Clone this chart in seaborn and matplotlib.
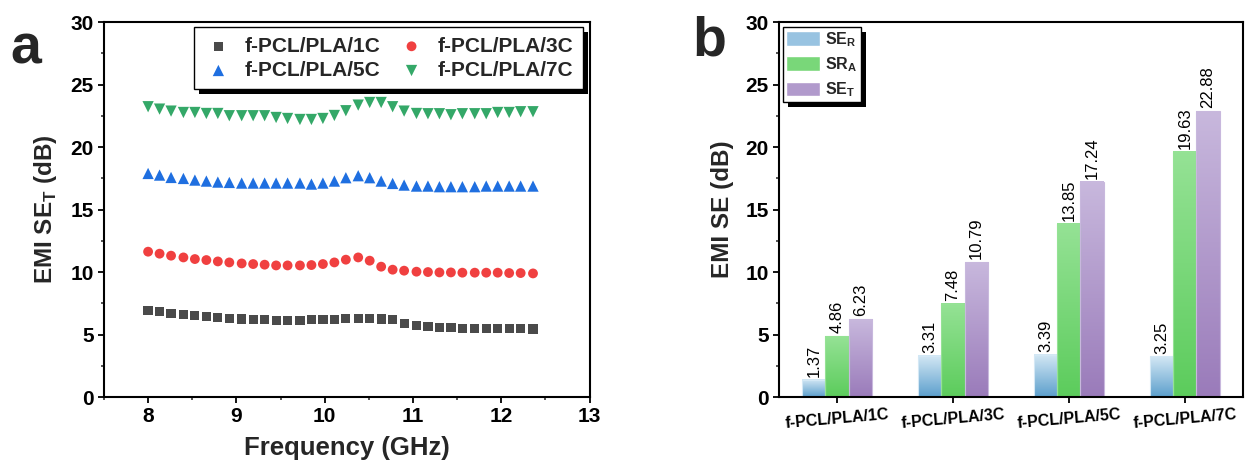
import numpy as np
import pandas as pd
import matplotlib
matplotlib.use("Agg")
import matplotlib.pyplot as plt
from matplotlib.patches import Rectangle, Patch
from matplotlib.colors import to_rgba
from matplotlib.ticker import MultipleLocator
import seaborn as sns

# ---------------- data ----------------
freq = [8.00, 8.13, 8.26, 8.40, 8.53, 8.66, 8.79, 8.92, 9.06, 9.19, 9.32, 9.45,
        9.58, 9.72, 9.85, 9.98, 10.11, 10.24, 10.38, 10.51, 10.64, 10.77, 10.90,
        11.04, 11.17, 11.30, 11.43, 11.56, 11.70, 11.83, 11.96, 12.09, 12.22, 12.36]

se_1c = [6.93, 6.83, 6.67, 6.59, 6.51, 6.43, 6.35, 6.27, 6.24, 6.19, 6.19, 6.13,
         6.13, 6.13, 6.19, 6.19, 6.21, 6.27, 6.27, 6.27, 6.24, 6.21, 5.89, 5.73,
         5.65, 5.57, 5.57, 5.49, 5.49, 5.49, 5.49, 5.49, 5.47, 5.44]
se_3c = [11.63, 11.47, 11.31, 11.17, 11.04, 10.96, 10.85, 10.77, 10.69, 10.64,
         10.59, 10.53, 10.53, 10.53, 10.56, 10.64, 10.77, 10.99, 11.17, 10.91,
         10.43, 10.19, 10.11, 10.03, 10.00, 9.97, 9.97, 9.95, 9.95, 9.95, 9.95,
         9.92, 9.92, 9.89]
se_5c = [17.89, 17.76, 17.57, 17.49, 17.36, 17.28, 17.20, 17.17, 17.12, 17.12,
         17.12, 17.12, 17.12, 17.12, 17.04, 17.12, 17.28, 17.55, 17.71, 17.55,
         17.28, 17.09, 16.96, 16.88, 16.88, 16.83, 16.83, 16.83, 16.83, 16.88,
         16.88, 16.88, 16.88, 16.88]
se_7c = [23.23, 23.04, 22.88, 22.77, 22.77, 22.69, 22.69, 22.51, 22.51, 22.51,
         22.51, 22.37, 22.29, 22.21, 22.21, 22.29, 22.53, 22.91, 23.36, 23.57,
         23.57, 23.23, 22.88, 22.69, 22.67, 22.67, 22.59, 22.67, 22.67, 22.67,
         22.77, 22.77, 22.83, 22.83]

samples = ["f-PCL/PLA/1C", "f-PCL/PLA/3C", "f-PCL/PLA/5C", "f-PCL/PLA/7C"]
se_r = [1.37, 3.31, 3.39, 3.25]
se_a = [4.86, 7.48, 13.85, 19.63]
se_t = [6.23, 10.79, 17.24, 22.88]
components = ["SE$_\\mathbf{R}$", "SR$_\\mathbf{A}$", "SE$_\\mathbf{T}$"]

# ---------------- style ----------------
sns.set_style("ticks")
plt.rcParams["font.family"] = ["Liberation Sans", "DejaVu Sans"]
plt.rcParams["font.weight"] = "bold"
plt.rcParams["axes.labelweight"] = "bold"
plt.rcParams["mathtext.fontset"] = "custom"
plt.rcParams["mathtext.rm"] = "Liberation Sans"
plt.rcParams["mathtext.bf"] = "Liberation Sans:bold"
plt.rcParams["axes.linewidth"] = 1.5
plt.rcParams["axes.edgecolor"] = "black"

fig = plt.figure(figsize=(12.45, 4.68), dpi=100)
ax1 = fig.add_axes([0.0835, 0.1517, 0.39, 0.801])
ax2 = fig.add_axes([0.6257, 0.1517, 0.3725, 0.801])


def style_axes(ax):
    for s in ax.spines.values():
        s.set_visible(True)
        s.set_linewidth(1.5)
        s.set_color("black")
    ax.tick_params(which="major", direction="out", length=4, width=1.3,
                   labelsize=15, colors="black")
    ax.tick_params(which="minor", direction="out", length=2.5, width=1.1)
    for lab in ax.get_yticklabels():
        lab.set_fontweight("bold")


def add_shadow(ax, leg, dx=5, dy=5):
    fig.canvas.draw()
    bb = leg.get_window_extent()
    inv = ax.transAxes.inverted()
    (x0, y0), (x1, y1) = inv.transform([[bb.x0 + dx, bb.y0 - dy],
                                        [bb.x1 + dx, bb.y1 - dy]])
    ax.add_patch(Rectangle((x0, y0), x1 - x0, y1 - y0, transform=ax.transAxes,
                           facecolor="black", edgecolor="none", zorder=4.9,
                           clip_on=False))


# ---------------- panel a ----------------
series = [se_1c, se_3c, se_5c, se_7c]
marks = ["s", "o", "^", "v"]
cols = ["#4a4a4a", "#f04040", "#1f6fe0", "#34a868"]
sizes = [44, 50, 66, 66]
for name, vals, m, c, sz in zip(samples, series, marks, cols, sizes):
    sns.scatterplot(x=freq, y=vals, marker=m, color=c, s=sz, edgecolor="none",
                    label=name, ax=ax1, zorder=3)

ax1.set_xlim(7.5, 13)
ax1.set_ylim(0, 30)
ax1.xaxis.set_major_locator(MultipleLocator(1))
ax1.xaxis.set_minor_locator(MultipleLocator(0.5))
ax1.yaxis.set_major_locator(MultipleLocator(5))
ax1.yaxis.set_minor_locator(MultipleLocator(2.5))
style_axes(ax1)
for lab in ax1.get_xticklabels():
    lab.set_fontweight("bold")
ax1.set_xlabel("Frequency (GHz)", fontsize=18.5, fontweight="bold", labelpad=7)
ax1.set_ylabel("EMI SE$_\\mathbf{T}$ (dB)", fontsize=17.5, fontweight="bold",
               labelpad=8)

# two rows: 1C, 3C on top; 5C, 7C below
h, l = ax1.get_legend_handles_labels()
order = [0, 2, 1, 3]
leg1 = ax1.legend([h[i] for i in order], [l[i] for i in order], ncol=2,
                  loc="upper right", bbox_to_anchor=(0.986, 0.986),
                  borderaxespad=0, frameon=True, fancybox=False, framealpha=1,
                  edgecolor="black", prop={"weight": "bold", "size": 15},
                  handlelength=1.4, handletextpad=0.55, columnspacing=0.8,
                  borderpad=0.45, labelspacing=0.25)
leg1.get_frame().set_linewidth(1.0)
leg1.set_zorder(5)

# ---------------- panel b ----------------
bar_df = pd.DataFrame({
    "sample": samples * 3,
    "component": [components[0]] * 4 + [components[1]] * 4 + [components[2]] * 4,
    "value": se_r + se_a + se_t,
})
grad_cols = [("#5c9fcc", "#d4e8f5"), ("#5ccc5c", "#95e295"), ("#9a7bba", "#c8b8dd")]
sns.barplot(data=bar_df, x="sample", y="value", hue="component",
            palette=[g[0] for g in grad_cols], width=0.6, gap=0,
            legend=False, ax=ax2, zorder=2)

for cont, (c_bot, c_top) in zip(ax2.containers, grad_cols):
    bot = np.array(to_rgba(c_bot))
    top = np.array(to_rgba(c_top))
    ramp = np.linspace(0, 1, 128)[:, None]
    img = (bot[None, :] * (1 - ramp) + top[None, :] * ramp)[:, None, :]
    for p in cont.patches:
        x, w, hgt = p.get_x(), p.get_width(), p.get_height()
        ax2.imshow(img, extent=[x, x + w, 0, hgt], origin="lower", aspect="auto",
                   interpolation="bilinear", zorder=2)
        p.set_facecolor("none")
        p.set_edgecolor(top)
        p.set_linewidth(0.8)
        p.set_zorder(2.1)
    ax2.bar_label(cont, fmt="%.2f", rotation=90, padding=2, fontsize=12,
                  fontweight="normal", color="black")

ax2.set_xlim(-0.5, 3.5)
ax2.set_ylim(0, 30)
ax2.yaxis.set_major_locator(MultipleLocator(5))
ax2.yaxis.set_minor_locator(MultipleLocator(2.5))
style_axes(ax2)
ax2.tick_params(axis="x", which="minor", bottom=False)
ax2.set_xticks(range(4))
ax2.set_xticklabels(samples, rotation=5, fontsize=11.5, fontweight="bold")
ax2.set_xlabel("")
ax2.set_ylabel("EMI SE (dB)", fontsize=17.5, fontweight="bold", labelpad=8)

handles = [Patch(facecolor=tuple((np.array(to_rgba(g[0])) + np.array(to_rgba(g[1]))) / 2),
                 edgecolor="white") for g in grad_cols]
leg2 = ax2.legend(handles, components, loc="upper left",
                  bbox_to_anchor=(0.009, 0.987), borderaxespad=0,
                  frameon=True, fancybox=False, framealpha=1, edgecolor="black",
                  prop={"weight": "bold", "size": 11.5}, handlelength=2.1,
                  handleheight=1.05, handletextpad=0.35, borderpad=0.2,
                  labelspacing=0.4)
leg2.get_frame().set_linewidth(1.0)
leg2.set_zorder(5)

# panel letters
fig.text(0.008, 0.865, "a", fontsize=40, fontweight="bold")
fig.text(0.556, 0.882, "b", fontsize=40, fontweight="bold")

add_shadow(ax1, leg1)
add_shadow(ax2, leg2)

fig.savefig("out.png", dpi=100)
